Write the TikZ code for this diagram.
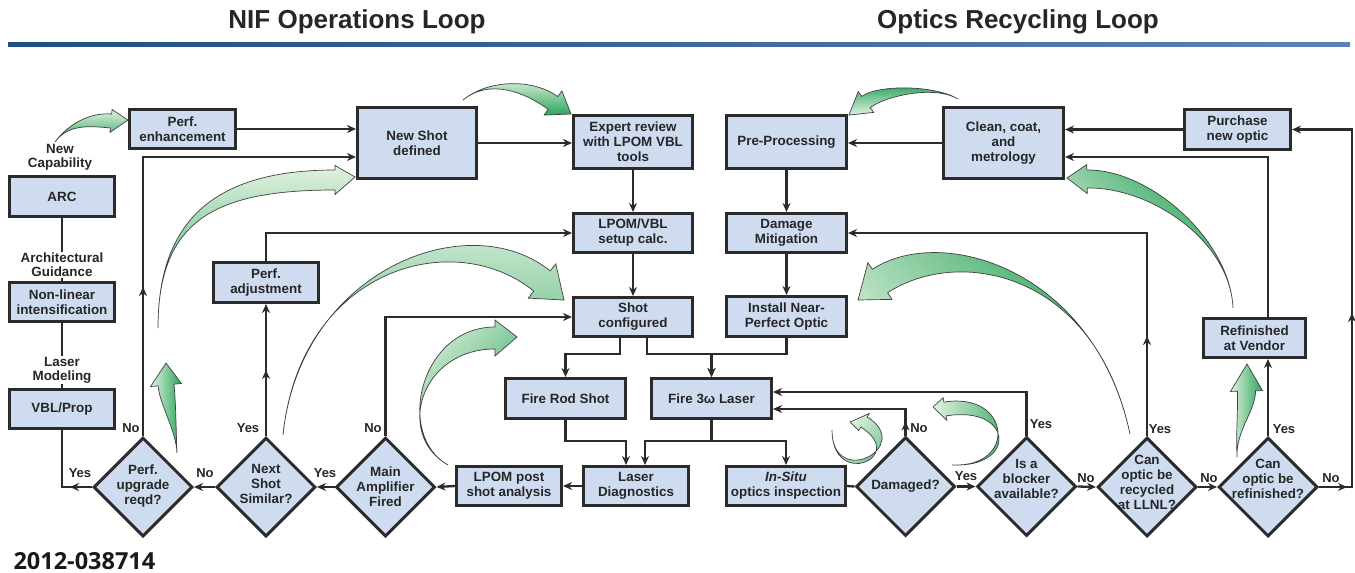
\documentclass[tikz,border=0pt]{standalone}
\usepackage{fontspec}
\setmainfont{Liberation Sans}
\newfontfamily\numfont{Open Sans}
\usetikzlibrary{shapes.geometric,arrows.meta,calc,decorations.markings}
\definecolor{boxblue}{HTML}{CFDCF0}
\definecolor{edge}{HTML}{2B2B2B}
\definecolor{glight}{HTML}{E2F2E0}
\definecolor{gdark}{HTML}{2AA45C}
\definecolor{ruledark}{HTML}{1D4F80}
\definecolor{rulelight}{HTML}{5B83B8}
\newcommand{\greenarrow}[8]{%
  \path[garrow, shading angle=#8] (#1) .. controls (#2) and ($(#3)!#6pt!-90:(#4)$) .. ($(#4)!#6pt!90:(#3)$)
    -- ($(#4)!#7pt!90:(#3)$) -- (#5) -- ($(#4)!#7pt!-90:(#3)$) -- ($(#4)!#6pt!-90:(#3)$)
    .. controls ($(#3)!#6pt!90:(#4)$) and (#2) .. (#1) -- cycle;}

\begin{document}
\begin{tikzpicture}[x=1pt,y=-1pt,>={Stealth[length=9pt,width=8pt]}]
\tikzset{box/.style={draw=edge, line width=3pt, fill=boxblue, align=center, inner sep=0pt, text=black!85, font=\bfseries\fontsize{13.4}{15}\selectfont},
  dia/.style={diamond, aspect=1, draw=edge, line width=3pt, fill=boxblue, inner sep=0pt, minimum width=99pt, minimum height=99pt},
  dtext/.style={align=center, inner sep=0pt, text=black!85, font=\bfseries\fontsize{13.4}{15}\selectfont},
  lbl/.style={inner sep=0pt, text=black!85, font=\bfseries\fontsize{13}{15}\selectfont},
  note/.style={fill=white, align=center, inner sep=1pt, text=black!85, font=\bfseries\fontsize{13.4}{14}\selectfont},
  heading/.style={text=black!85, font=\bfseries\fontsize{26}{28}\selectfont},
  link/.style={color=edge, line width=2.3pt},
  flow/.style={link, ->},
  midarrow/.style={postaction={decorate, decoration={markings, mark=at position #1 with {\arrow{>}}}}},
  garrow/.style={draw=black!75, line width=0.7pt, left color=glight, right color=gdark}}
\useasboundingbox (0,0) rectangle (1355,573);
\node[heading] (nifttl) at (357,22) {NIF Operations Loop};
\node[heading] (optttl) at (1018,22) {Optics Recycling Loop};
\shade[left color=ruledark, right color=rulelight] (8,42.5) rectangle (1350,46.5);
\node[anchor=base west, text=black!90, font=\numfont\bfseries\fontsize{23.5}{24}\selectfont] (fignum) at (10,569) {2012-038714};

\node[box, minimum width=106pt, minimum height=39pt] (enh) at (182.5,129) {Perf.\\enhancement};
\node[box, minimum width=119pt, minimum height=71pt] (newshot) at (417,143) {New Shot\\defined};
\node[box, minimum width=119pt, minimum height=53pt] (expert) at (633,142) {Expert review\\with LPOM VBL\\tools};
\node[box, minimum width=119pt, minimum height=39pt] (setup) at (633,233) {LPOM/VBL\\setup calc.};
\node[box, minimum width=119pt, minimum height=39pt] (config) at (633,317) {Shot\\configured};
\node[box, minimum width=105pt, minimum height=40pt] (arc) at (62,196.5) {ARC};
\node[box, minimum width=105pt, minimum height=39pt] (nonlin) at (62,302) {Non-linear\\intensification};
\node[box, minimum width=105pt, minimum height=39pt] (vbl) at (62,409) {VBL/Prop};
\node[box, minimum width=105pt, minimum height=40pt] (adj) at (266,282.5) {Perf.\\adjustment};
\node[box, minimum width=120pt, minimum height=40pt] (rod) at (565.5,398.5) {Fire Rod Shot};
\node[box, minimum width=120pt, minimum height=40pt] (fire3) at (711.5,398.5) {Fire 3ω Laser};
\node[box, minimum width=105pt, minimum height=39pt] (post) at (509,486) {LPOM post\\shot analysis};
\node[box, minimum width=105pt, minimum height=39pt] (diag) at (636,486) {Laser\\Diagnostics};
\node[box, minimum width=119pt, minimum height=39pt] (insitu) at (786,486) {\textit{In-Situ}\\optics inspection};
\node[box, minimum width=120pt, minimum height=53pt] (pre) at (786.5,142) {Pre-Processing};
\node[box, minimum width=120pt, minimum height=39pt] (mitig) at (786.5,233) {Damage\\Mitigation};
\node[box, minimum width=120pt, minimum height=40pt] (install) at (786.5,316.5) {Install Near-\\Perfect Optic};
\node[box, minimum width=120pt, minimum height=71pt] (clean) at (1003.5,143) {Clean, coat,\\and\\metrology};
\node[box, minimum width=106pt, minimum height=40pt] (purch) at (1237.5,129.5) {Purchase\\new optic};
\node[box, minimum width=102pt, minimum height=39pt] (vendor) at (1254.5,338) {Refinished\\at Vendor};

\node[dia, label={[dtext, yshift=1pt]center:Perf.\\upgrade\\reqd?}] (upg) at (143,487) {};
\node[dia, label={[dtext, yshift=3pt]center:Next\\Shot\\Similar?}] (next) at (266,487) {};
\node[dia, label={[dtext]center:Main\\Amplifier\\Fired}] (amp) at (385.5,487) {};
\node[dia, label={[dtext]center:Damaged?}] (dam) at (905.5,486.5) {};
\node[dia, label={[dtext, yshift=8pt]center:Is a\\blocker\\available?}] (block) at (1026.5,486.5) {};
\node[dia, label={[dtext, yshift=5pt]center:Can\\optic be\\recycled\\at LLNL?}] (recyc) at (1147,487) {};
\node[dia, label={[dtext, yshift=8pt]center:Can\\optic be\\refinished?}] (refin) at (1268,487) {};

\node[note] (newcap) at (60,157) {New\\Capability};
\node[note] (guid) at (62,265) {Architectural\\Guidance};
\node[note] (model) at (62,370) {Laser\\Modeling};

\draw[link] (arc.south) -- (guid.north);
\draw[link] (guid.south) -- (nonlin.north);
\draw[link] (nonlin.south) -- (model.north);
\draw[link] (model.south) -- (vbl.north);
\draw[flow] (enh.east) -- (enh.east -| newshot.west);
\draw[flow, midarrow=149pt] (upg.north) |- ([yshift=-14pt]newshot.west);
\draw[flow] (newshot.east) -- (newshot.east -| expert.west);
\draw[flow] (expert) -- (setup);
\draw[flow] (setup) -- (config);
\draw[flow, midarrow=0.5] (next.north) -- (adj.south);
\draw[flow] (adj.north) |- (setup.west);
\draw[flow] (amp.north) |- (config.west);
\draw[flow] ([xshift=-13pt]config.south) -- ++(0,16) -| (rod.north);
\draw[flow] ([xshift=14pt]config.south) -- ++(0,16) -| (fire3.north);
\draw[flow] (install.south) -- ++(0,16) -| (fire3.north);
\draw[flow] (rod.south) -- ++(0,21) -| ([xshift=-10pt]diag.north);
\draw[flow] (fire3.south) -- ++(0,21) -| ([xshift=9pt]diag.north);
\draw[flow] (fire3.south) -- ++(0,21) -| (insitu.north);
\draw[flow] (diag.west) -- (post.east);
\draw[flow] (post.west) -- (amp.east);
\draw[flow] (amp.west) -- (next.east);
\draw[flow] (next.west) -- (upg.east);
\draw[link, midarrow=22pt] (upg.west) -| (vbl.south);

\draw[link] (insitu.east) -- (dam.west);
\draw[flow, midarrow=14pt] (dam.north) |- ([yshift=-10.5pt]fire3.east);
\draw[flow] (dam.east) -- (block.west);
\draw[flow] (block.north) |- ([yshift=6.5pt]fire3.east);
\draw[flow] (block.east) -- (recyc.west);
\draw[flow, midarrow=100pt] (recyc.north) |- (mitig.east);
\draw[flow] (recyc.east) -- (refin.west);
\draw[flow] (refin.north) -- (refin.north |- vendor.south);
\draw[flow] (vendor.north -| refin.north) |- ([yshift=-14pt]clean.east);
\draw[flow, midarrow=28pt, midarrow=207pt] (refin.east) -- ++(33,0) |- (purch.east);
\draw[flow] (purch.west) -- (purch.west -| clean.east);
\draw[flow] (clean.west) -- (clean.west -| pre.east);
\draw[flow] (pre) -- (mitig);
\draw[flow] (mitig) -- (install);

\node[lbl] (no1) at (131,428) {No};
\node[lbl] (yes1) at (248,428) {Yes};
\node[lbl] (no2) at (373,428) {No};
\node[lbl] (yes2) at (80,473) {Yes};
\node[lbl] (no3) at (205,473) {No};
\node[lbl] (yes3) at (325,473) {Yes};
\node[lbl] (no4) at (919,428) {No};
\node[lbl] (yes4) at (966,476) {Yes};
\node[lbl] (yes5) at (1041,424) {Yes};
\node[lbl] (no5) at (1086,478) {No};
\node[lbl] (yes6) at (1160,429) {Yes};
\node[lbl] (no6) at (1209,478) {No};
\node[lbl] (yes7) at (1284,429) {Yes};
\node[lbl] (no7) at (1331,478) {No};

\greenarrow{55,142}{68,124}{90,119}{111,121}{128,120}{7}{11.5}{0}
\greenarrow{463,100}{490,78}{530,86}{553,103}{571,114}{8}{15}{0}
\greenarrow{158,328}{158,220}{215,180}{335,180}{355,177}{10}{14.5}{0}
\greenarrow{177,453}{176,430}{168,405}{166,385}{166,363}{8}{15.5}{90}
\greenarrow{283,435}{300,270}{460,215}{542,281}{564,300}{13}{22}{0}
\greenarrow{448,465}{395,435}{420,338}{495,338}{517,337}{11}{18}{45}
\greenarrow{958,99}{935,85}{882,90}{866,102}{849,115}{7}{13}{180}
\greenarrow{1130,434}{1095,270}{950,235}{880,281}{858,300}{14}{22}{135}
\greenarrow{1233,308}{1230,240}{1150,178}{1087,179}{1067,178}{9}{14.5}{135}
\greenarrow{1237,457}{1236,430}{1247,410}{1246.5,391}{1247,364}{9}{16}{90}
\greenarrow{832,430}{832,490}{912,452}{864,422}{850,422}{6}{10}{45}
\greenarrow{952,465}{1018,468}{1012,398}{945,409}{933,407}{7}{11.5}{90}
\end{tikzpicture}
\end{document}
